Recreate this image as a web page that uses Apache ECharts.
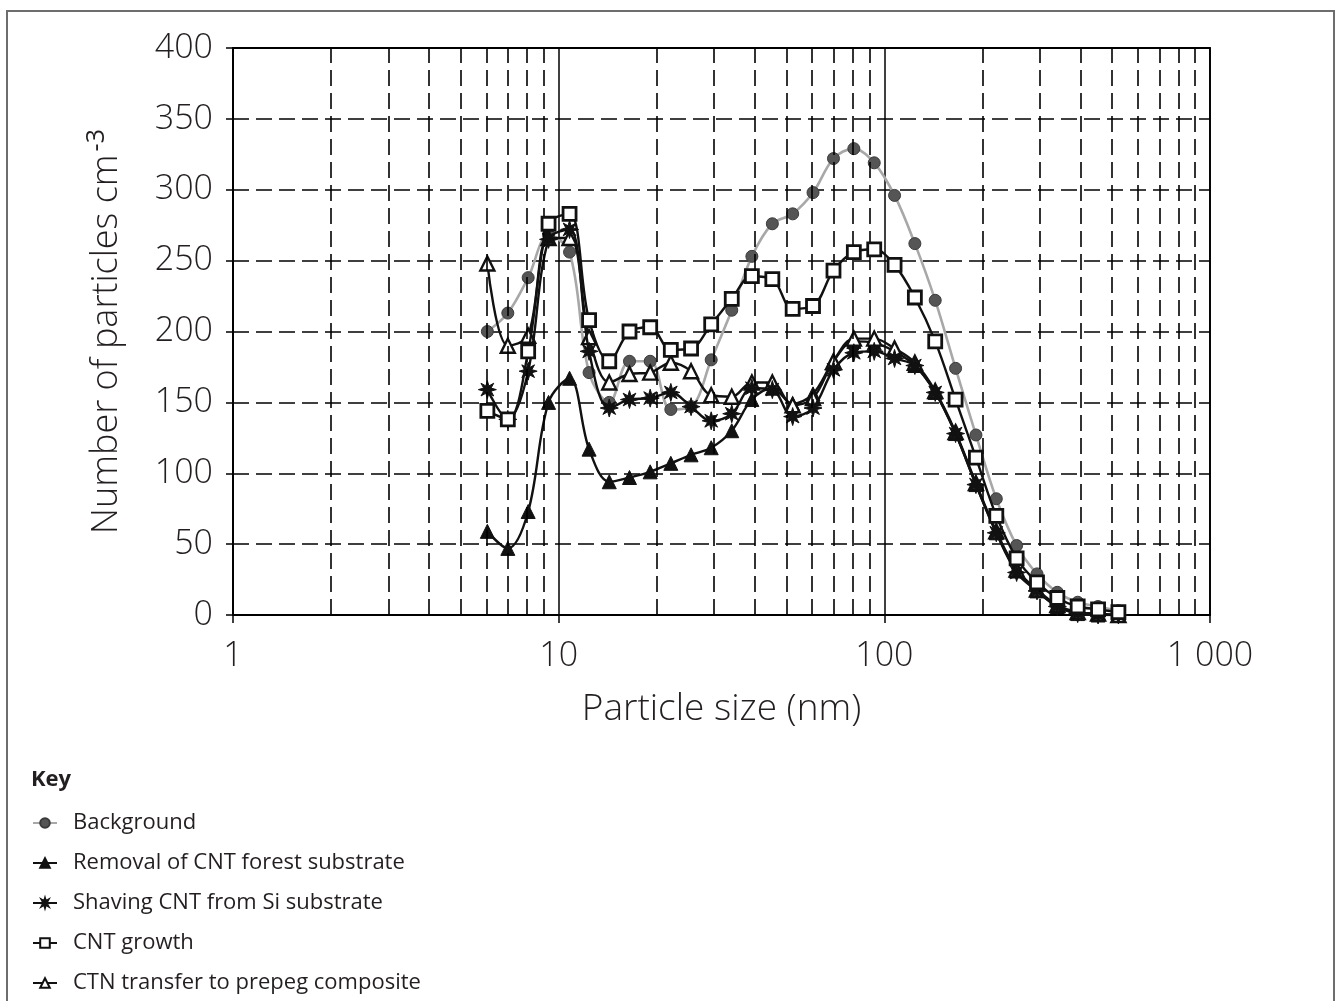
<!DOCTYPE html>
<html>
<head>
<meta charset="utf-8">
<script src="https://cdn.jsdelivr.net/npm/echarts@6/dist/echarts.min.js"></script>
<style>html,body{margin:0;padding:0;background:#fff;}#chart{width:1336px;height:1001px;}</style>
</head>
<body>
<div id="chart"></div>
<script>
// Particle size channels (nm)
var sizes = [6.04, 6.98, 8.06, 9.31, 10.8, 12.4, 14.3, 16.5, 19.1, 22.1, 25.5, 29.4, 34.0, 39.2, 45.3, 52.3, 60.4, 69.8, 80.6, 93.1, 107.5, 124.1, 143.3, 165.5, 191.1, 220.7, 254.8, 294.3, 339.8, 392.4, 453.2, 523.3];
var background = [200, 213, 238, 268, 256, 171, 150, 179, 179, 145, 147, 180, 215, 253, 276, 283, 298, 322, 329, 319, 296, 262, 222, 174, 127, 82, 49, 29, 16, 9, 6, 3];
var removal = [59, 47, 73, 150, 167, 117, 94, 97, 101, 107, 113, 118, 130, 152, 160, 149, 156, 179, 193, 192, 186, 176, 157, 128, 92, 58, 31, 17, 6, 1, 0, 0];
var shaving = [159, 138, 172, 265, 272, 186, 146, 152, 153, 157, 147, 137, 142, 160, 159, 140, 146, 173, 185, 186, 181, 176, 157, 128, 92, 58, 30, 17, 6, 1, 0, 0];
var growth = [144, 138, 186, 276, 283, 208, 179, 200, 203, 187, 188, 205, 223, 239, 237, 216, 218, 243, 256, 258, 247, 224, 193, 152, 111, 70, 40, 23, 12, 6, 4, 2];
var transfer = [248, 190, 197, 266, 266, 196, 164, 170, 171, 178, 172, 155, 154, 164, 164, 148, 153, 179, 195, 195, 188, 178, 158, 129, 93, 59, 32, 18, 7, 2, 1, 0];
var seriesNames = ['Background', 'Removal of CNT forest substrate', 'Shaving CNT from Si substrate', 'CNT growth', 'CTN transfer to prepeg composite'];
var minorGridValues = [2, 3, 4, 5, 6, 7, 8, 9, 20, 30, 40, 50, 60, 70, 80, 90, 200, 300, 400, 500, 600, 700, 800, 900];

function pairs(ys) { return sizes.map(function (x, i) { return [x, ys[i]]; }); }

var ISO = '"Open Sans", "Noto Sans", sans-serif';
var ISOW = 300;
var TXT = '#231f20';
var asterisk = 'path://M0 -10 L1.7 -4.1 L7.07 -7.07 L4.1 -1.7 L10 0 L4.1 1.7 L7.07 7.07 L1.7 4.1 L0 10 L-1.7 4.1 L-7.07 7.07 L-4.1 1.7 L-10 0 L-4.1 -1.7 L-7.07 -7.07 L-1.7 -4.1 Z';
var dash = [16, 7];

var chart = echarts.init(document.getElementById('chart'), null, {renderer: 'canvas'});

function legendAt(name, top) {
  return {
    data: [name], left: 27, top: top, orient: 'horizontal',
    itemWidth: 24, itemHeight: 12, itemGap: 0,
    textStyle: {fontFamily: '"Open Sans", "Noto Sans", sans-serif', fontSize: 22, color: TXT, padding: [0, 0, 0, 11]},
    selectedMode: false
  };
}

var option = {
  backgroundColor: '#fff',
  animation: false,
  graphic: [{
    type: 'rect', shape: {x: 7, y: 11, width: 1327, height: 1010},
    style: {fill: 'none', stroke: '#6d6d6d', lineWidth: 2}, z: -10
  }],
  title: {
    text: 'Key', left: 26, top: 764,
    textStyle: {fontFamily: '"Open Sans", "Noto Sans", sans-serif', fontSize: 22, fontWeight: 'bold', color: TXT}
  },
  legend: [
    legendAt(seriesNames[0], 807),
    legendAt(seriesNames[1], 847),
    legendAt(seriesNames[2], 887),
    legendAt(seriesNames[3], 927),
    legendAt(seriesNames[4], 967)
  ],
  grid: {
    left: 233, right: 126, top: 48, bottom: 386,
    show: true, borderColor: '#000', borderWidth: 1.8, backgroundColor: 'transparent'
  },
  xAxis: {
    type: 'log', logBase: 10, min: 1, max: 1000,
    name: 'Particle size (nm)', nameLocation: 'middle', nameGap: 76,
    nameTextStyle: {fontFamily: ISO, fontWeight: ISOW, fontSize: 37, color: TXT},
    axisLine: {show: true, lineStyle: {color: '#000', width: 1.8}},
    axisTick: {show: true, length: 8, lineStyle: {color: '#000', width: 1.5}},
    axisLabel: {
      fontFamily: ISO, fontWeight: ISOW, fontSize: 34, color: TXT, margin: 24,
      formatter: function (v) { return v === 1000 ? '1 000' : String(v); }
    },
    splitLine: {show: true, lineStyle: {color: '#000', width: 1.5, type: 'solid'}}
  },
  yAxis: {
    type: 'value', min: 0, max: 400, interval: 50,
    name: 'Number of particles cm{sup|-3}', nameLocation: 'middle', nameGap: 104, nameRotate: 90,
    nameTextStyle: {
      fontFamily: ISO, fontWeight: ISOW, fontSize: 36, color: TXT,
      rich: {sup: {fontFamily: ISO, fontWeight: 400, fontSize: 25, color: TXT, padding: [0, 0, 20, 3]}}
    },
    axisLine: {show: true, lineStyle: {color: '#000', width: 1.8}},
    axisTick: {show: true, length: 7, lineStyle: {color: '#000', width: 1.5}},
    axisLabel: {fontFamily: ISO, fontWeight: ISOW, fontSize: 34, color: TXT, margin: 20},
    splitLine: {show: true, lineStyle: {color: '#000', width: 1.6, type: dash}}
  },
  series: [
    {
      name: '_minorGrid', type: 'line', data: [], silent: true, legendHoverLink: false,
      markLine: {
        silent: true, symbol: 'none', label: {show: false}, animation: false,
        lineStyle: {color: '#000', width: 1.6, type: dash},
        data: minorGridValues.map(function (v) { return {xAxis: v}; })
      }
    },
    {
      name: seriesNames[0], type: 'line', data: pairs(background), smooth: 0.35,
      symbol: 'circle', symbolSize: 12, z: 2,
      lineStyle: {color: '#a8a8a8', width: 2.6},
      itemStyle: {color: '#555555', borderColor: '#3a3a3a', borderWidth: 1}
    },
    {
      name: seriesNames[1], type: 'line', data: pairs(removal), smooth: 0.35,
      symbol: 'triangle', symbolSize: 14, z: 3,
      lineStyle: {color: '#111', width: 2.4},
      itemStyle: {color: '#111', borderColor: '#111', borderWidth: 1}
    },
    {
      name: seriesNames[2], type: 'line', data: pairs(shaving), smooth: 0.35,
      symbol: asterisk, symbolSize: 18, z: 4,
      lineStyle: {color: '#111', width: 2.4},
      itemStyle: {color: '#111', borderColor: '#111', borderWidth: 1}
    },
    {
      name: seriesNames[3], type: 'line', data: pairs(growth), smooth: 0.35,
      symbol: 'rect', symbolSize: 13, z: 5,
      lineStyle: {color: '#111', width: 2.4},
      itemStyle: {color: '#fff', borderColor: '#111', borderWidth: 2.8}
    },
    {
      name: seriesNames[4], type: 'line', data: pairs(transfer), smooth: 0.35,
      symbol: 'triangle', symbolSize: 14, z: 3,
      lineStyle: {color: '#111', width: 2.4},
      itemStyle: {color: '#fff', borderColor: '#111', borderWidth: 2.4}
    }
  ]
};
chart.setOption(option);
</script>
</body>
</html>
